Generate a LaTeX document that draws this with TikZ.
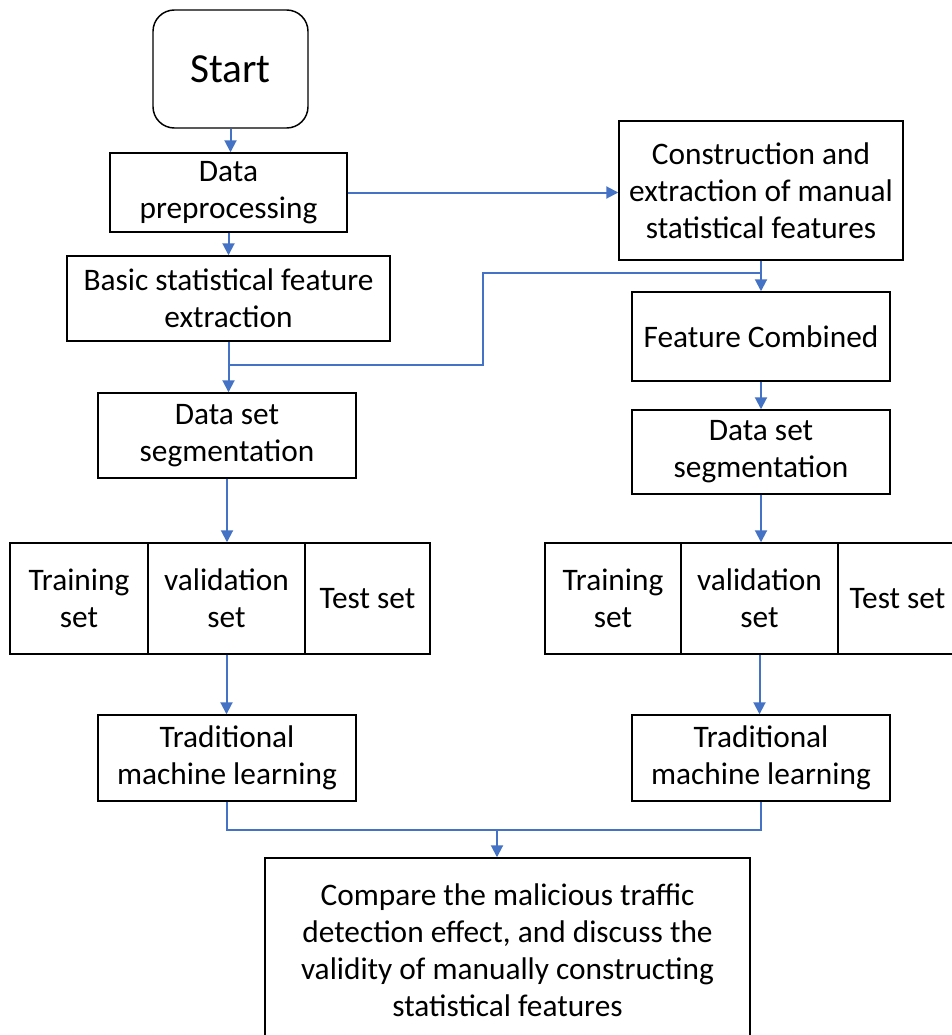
\documentclass[tikz,border=0pt]{standalone}
\usepackage{fontspec}
\setmainfont{Carlito}
\usetikzlibrary{arrows.meta,positioning}
\definecolor{flowblue}{HTML}{4472C4}

\begin{document}
\begin{tikzpicture}[
  x=0.75pt,y=-0.75pt,
  line join=miter,
  >={Triangle[length=9pt,width=9pt]},
  box/.style={draw=black,line width=1.1pt,align=center,inner sep=0pt,
    font=\fontsize{23.5}{27.75}\selectfont},
  wh/.style 2 args={minimum width=#1*0.75pt,minimum height=#2*0.75pt},
  flow/.style={draw=flowblue,line width=1.5pt},
]
\useasboundingbox (0,0) rectangle (952,1035);

% left column
\node[box,wh={155}{118},rounded corners=16pt,font=\fontsize{31}{36}\selectfont] (start) at (230.5,69) {Start};
\node[box,wh={237}{79}] (prep) at (228.5,192.5) {Data\\preprocessing};
\node[box,wh={323}{85}] (basic) at (228.5,298.5) {Basic statistical feature\\extraction};
\node[box,wh={258}{85}] (segL) at (227,435.5) {Data set\\segmentation};

% right column
\node[box,wh={284}{139}] (manual) at (761,190.5) {Construction and\\extraction of manual\\statistical features};
\node[box,wh={258}{89}] (comb) at (761,336.5) {Feature Combined};
\node[box,wh={258}{84}] (segR) at (761,452) {Data set\\segmentation};

% split sets
\node[box,wh={138}{111}] (trainL) at (79,598.5) {Training\\set};
\node[box,wh={157}{111}] (validL) at (226.5,598.5) {validation\\set};
\node[box,wh={125}{111}] (testL) at (367.5,598.5) {Test set};
\node[box,wh={136}{111}] (trainR) at (613,598.5) {Training\\set};
\node[box,wh={157}{111}] (validR) at (759.5,598.5) {validation\\set};
\node[box,wh={119}{111}] (testR) at (897.5,598.5) {Test set};

% learning and comparison
\node[box,wh={258}{86}] (tmlL) at (227,758) {Traditional\\machine learning};
\node[box,wh={258}{86}] (tmlR) at (761,758) {Traditional\\machine learning};
\node[box,wh={485}{184}] (compare) at (507.5,950) {Compare the malicious traffic\\detection effect, and discuss the\\validity of manually constructing\\statistical features};

% junctions
\coordinate (jL) at (basic.south |- 0,365);
\coordinate (jR) at (manual.south |- 0,273);
\coordinate (bend) at (483,365);
\coordinate (merge) at (497,830);

% connectors
\draw[flow,->] (start.south) -- (start.south |- prep.north);
\draw[flow,->] (prep.south) -- (prep.south |- basic.north);
\draw[flow,->] (prep.east) -- (prep.east -| manual.west);
\draw[flow,->] (basic.south) -- (basic.south |- segL.north);
\draw[flow] (jL) -- (bend) |- (jR);
\draw[flow,->] (manual.south) -- (comb.north);
\draw[flow,->] (comb.south) -- (segR.north);
\draw[flow,->] (segL.south) -- (segL.south |- validL.north);
\draw[flow,->] (segR.south) -- (segR.south |- validR.north);
\draw[flow,->] (validL.south) -- (validL.south |- tmlL.north);
\draw[flow,->] (validR.south) -- (validR.south |- tmlR.north);
\draw[flow] (tmlL.south) |- (merge) -| (tmlR.south);
\draw[flow,->] (merge) -- (merge |- compare.north);
\end{tikzpicture}
\end{document}
